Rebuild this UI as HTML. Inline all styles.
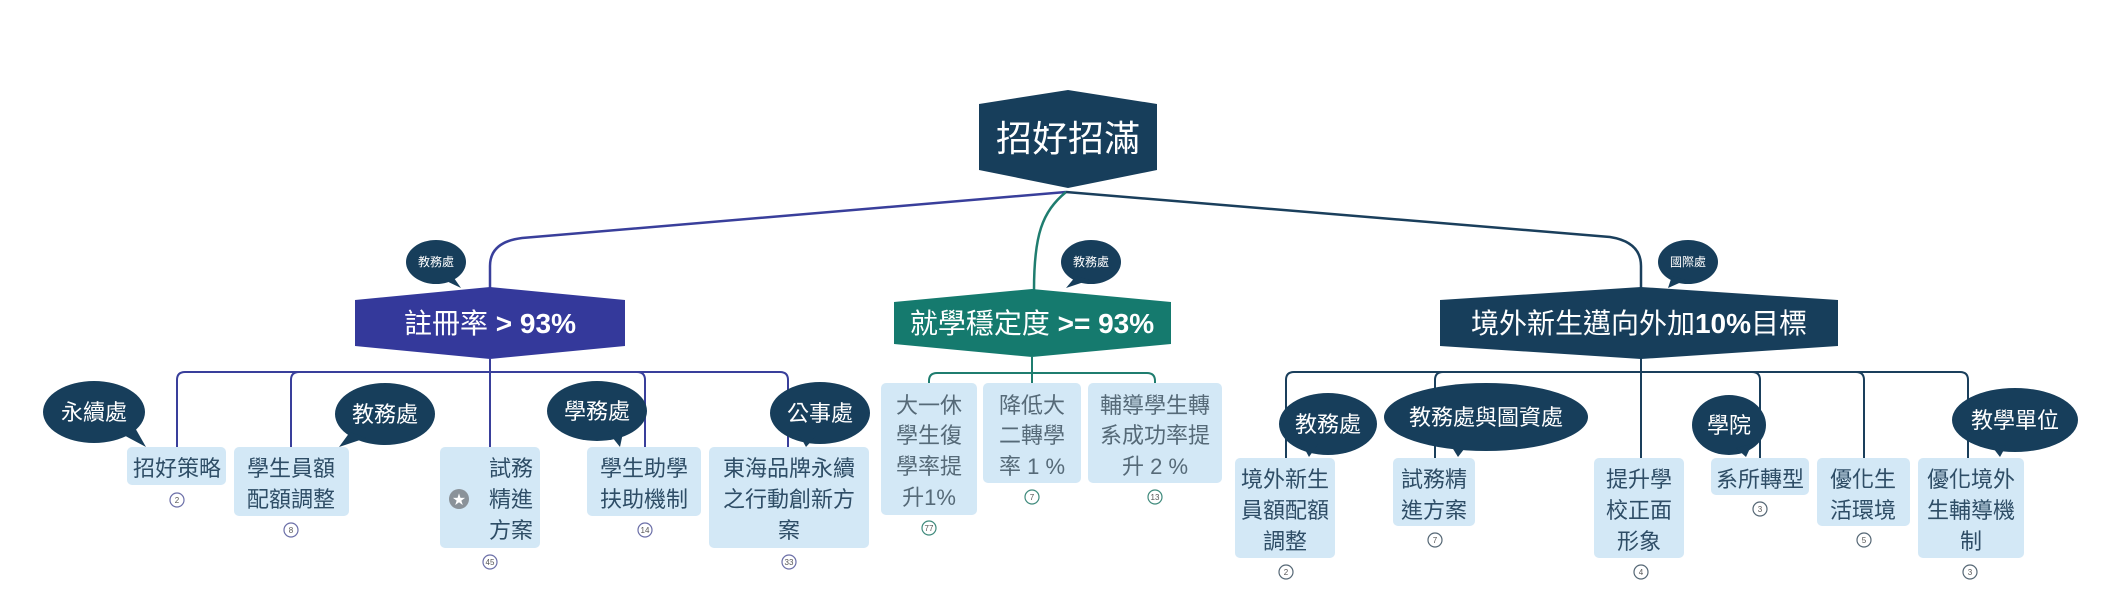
<!DOCTYPE html>
<html><head><meta charset="utf-8"><style>
html,body{margin:0;padding:0;background:#fff;}
svg{display:block;}
text{font-family:"Liberation Sans","Noto Sans CJK TC",sans-serif;}
</style></head><body>
<svg width="2124" height="600" viewBox="0 0 2124 600" xmlns="http://www.w3.org/2000/svg">
<g fill="none" stroke-width="2.5">
<path d="M1066,192 L522,238 Q490,242 490,266 L490,290" stroke="#393f9b"/>
<path d="M1066,192 C1042,212 1034,235 1034,290" stroke="#1f7d6f"/>
<path d="M1066,192 L1610,237 Q1641,242 1641,266 L1641,290" stroke="#1a3f5c"/>
<g stroke="#393f9b" stroke-width="2">
<path d="M490,359 L490,448"/>
<path d="M177,448 L177,380 Q177,372 185,372 L780,372 Q788,372 788,380 L788,448"/>
<path d="M291,448 L291,380 Q291,372 299,372"/>
<path d="M645,448 L645,380 Q645,372 637,372"/>
</g>
<g stroke="#1f7d6f" stroke-width="2">
<path d="M1032,357 L1032,383"/>
<path d="M929,383 L929,381 Q929,373 937,373 L1147,373 Q1155,373 1155,381 L1155,383"/>
</g>
<g stroke="#1a3f5c" stroke-width="2">
<path d="M1641,357 L1641,458"/>
<path d="M1286,458 L1286,380 Q1286,372 1294,372 L1960,372 Q1968,372 1968,380 L1968,458"/>
<path d="M1435,458 L1435,380 Q1435,372 1443,372"/>
<path d="M1760,458 L1760,380 Q1760,372 1752,372"/>
<path d="M1864,458 L1864,380 Q1864,372 1856,372"/>
</g>
</g>
<polygon points="1068,90 1157,104 1157,170 1068,188 979,170 979,104" fill="#173e5b"/>
<text x="1068" y="151" font-size="36" fill="#fff" text-anchor="middle">招好招滿</text>
<polygon points="490,287 625,300 625,346 490,359 355,346 355,300" fill="#34399b"/>
<text x="490" y="333" font-size="28" fill="#fff" text-anchor="middle">註冊率 <tspan font-weight="bold">&gt; 93%</tspan></text>
<polygon points="1032,289 1171,302 1171,344 1032,357 894,344 894,302" fill="#157a6e"/>
<text x="1032" y="333" font-size="28" fill="#fff" text-anchor="middle">就學穩定度 <tspan font-weight="bold">&gt;= 93%</tspan></text>
<polygon points="1641,287 1838,300 1838,346 1641,359 1440,346 1440,300" fill="#173e5b"/>
<text x="1639" y="333" font-size="28" fill="#fff" text-anchor="middle">境外新生邁向外加<tspan font-weight="bold">10%</tspan>目標</text>
<g fill="#173e5b">
<ellipse cx="436" cy="262" rx="30" ry="22"/><polygon points="440,278 454,278 461,288"/>
<ellipse cx="1091" cy="262" rx="30" ry="22"/><polygon points="1076,276 1090,280 1066,288"/>
<ellipse cx="1688" cy="262" rx="30" ry="22"/><polygon points="1672,276 1686,280 1668,288"/>
</g>
<g font-size="12" fill="#fff" text-anchor="middle">
<text x="436" y="266">教務處</text><text x="1091" y="266">教務處</text><text x="1688" y="266">國際處</text>
</g>
<g fill="#d3e8f6">
<rect x="127" y="447" width="99" height="38" rx="5"/>
<rect x="234" y="447" width="115" height="69" rx="5"/>
<rect x="440" y="447" width="100" height="101" rx="5"/>
<rect x="587" y="447" width="114" height="69" rx="5"/>
<rect x="709" y="447" width="160" height="101" rx="5"/>
<rect x="881" y="383" width="96" height="132" rx="5"/>
<rect x="983" y="383" width="98" height="100" rx="5"/>
<rect x="1088" y="383" width="134" height="100" rx="5"/>
<rect x="1235" y="458" width="100" height="100" rx="5"/>
<rect x="1393" y="458" width="82" height="68" rx="5"/>
<rect x="1594" y="458" width="90" height="100" rx="5"/>
<rect x="1711" y="458" width="98" height="37" rx="5"/>
<rect x="1817" y="458" width="93" height="68" rx="5"/>
<rect x="1918" y="458" width="106" height="100" rx="5"/>
</g>
<circle cx="459" cy="499" r="10" fill="#8a9299"/>
<text x="459" y="504" font-size="13" fill="#fff" text-anchor="middle">★</text>
<g font-size="22" fill="#2e4d66" text-anchor="middle">
<text x="177" y="476">招好策略</text>
<text x="291" y="476">學生員額</text><text x="291" y="507">配額調整</text>
<text x="511" y="476">試務</text><text x="511" y="507">精進</text><text x="511" y="538">方案</text>
<text x="644" y="476">學生助學</text><text x="644" y="507">扶助機制</text>
<text x="789" y="476">東海品牌永續</text><text x="789" y="507">之行動創新方</text><text x="789" y="538">案</text>
</g>
<g font-size="22" fill="#566a78" text-anchor="middle">
<text x="929" y="413">大一休</text><text x="929" y="443">學生復</text><text x="929" y="474">學率提</text><text x="929" y="505">升1%</text>
<text x="1032" y="413">降低大</text><text x="1032" y="443">二轉學</text><text x="1032" y="474">率 1 %</text>
<text x="1155" y="413">輔導學生轉</text><text x="1155" y="443">系成功率提</text><text x="1155" y="474">升 2 %</text>
</g>
<g font-size="22" fill="#2e4d66" text-anchor="middle">
<text x="1285" y="487">境外新生</text><text x="1285" y="518">員額配額</text><text x="1285" y="549">調整</text>
<text x="1434" y="487">試務精</text><text x="1434" y="518">進方案</text>
<text x="1639" y="487">提升學</text><text x="1639" y="518">校正面</text><text x="1639" y="549">形象</text>
<text x="1760" y="487">系所轉型</text>
<text x="1863" y="487">優化生</text><text x="1863" y="518">活環境</text>
<text x="1971" y="487">優化境外</text><text x="1971" y="518">生輔導機</text><text x="1971" y="549">制</text>
</g>
<g fill="#fff" stroke="#6b6fa8" stroke-width="1.2">
<circle cx="177" cy="500" r="7"/><circle cx="291" cy="530" r="7"/><circle cx="490" cy="562" r="7"/><circle cx="645" cy="530" r="7"/><circle cx="789" cy="562" r="7"/>
</g>
<g fill="#fff" stroke="#3f8a7c" stroke-width="1.2">
<circle cx="929" cy="528" r="7"/><circle cx="1032" cy="497" r="7"/><circle cx="1155" cy="497" r="7"/>
</g>
<g fill="#fff" stroke="#556775" stroke-width="1.2">
<circle cx="1286" cy="572" r="7"/><circle cx="1435" cy="540" r="7"/><circle cx="1641" cy="572" r="7"/><circle cx="1760" cy="509" r="7"/><circle cx="1864" cy="540" r="7"/><circle cx="1970" cy="572" r="7"/>
</g>
<g font-size="8" fill="#555" text-anchor="middle">
<text x="177" y="503">2</text><text x="291" y="533">8</text><text x="490" y="565">45</text><text x="645" y="533">14</text><text x="789" y="565">33</text>
<text x="929" y="531">77</text><text x="1032" y="500">7</text><text x="1155" y="500">13</text>
<text x="1286" y="575">2</text><text x="1435" y="543">7</text><text x="1641" y="575">4</text><text x="1760" y="512">3</text><text x="1864" y="543">5</text><text x="1970" y="575">3</text>
</g>
<g fill="#173e5b">
<ellipse cx="94" cy="412" rx="51" ry="31"/><polygon points="118,432 134,426 146,447"/>
<ellipse cx="385" cy="414" rx="50" ry="31"/><polygon points="350,432 366,438 339,447"/>
<ellipse cx="597" cy="411" rx="50" ry="30"/><polygon points="608,432 624,428 620,447"/>
<ellipse cx="820" cy="413" rx="50" ry="31"/><polygon points="800,436 816,436 806,447"/>
<ellipse cx="1328" cy="424" rx="49" ry="31"/><polygon points="1302,444 1318,444 1309,457"/>
<ellipse cx="1486" cy="417" rx="102" ry="34"/><polygon points="1450,444 1468,444 1458,457"/>
<ellipse cx="1729" cy="425" rx="37" ry="30"/><polygon points="1736,448 1752,444 1746,457"/>
<ellipse cx="2015" cy="420" rx="63" ry="32"/><polygon points="1990,444 2006,446 2000,457"/>
</g>
<g font-size="22" fill="#fff" text-anchor="middle">
<text x="94" y="420">永續處</text>
<text x="385" y="422">教務處</text>
<text x="597" y="419">學務處</text>
<text x="820" y="421">公事處</text>
<text x="1328" y="432">教務處</text>
<text x="1486" y="425">教務處與圖資處</text>
<text x="1729" y="433">學院</text>
<text x="2015" y="428">教學單位</text>
</g>
</svg>
</body></html>
